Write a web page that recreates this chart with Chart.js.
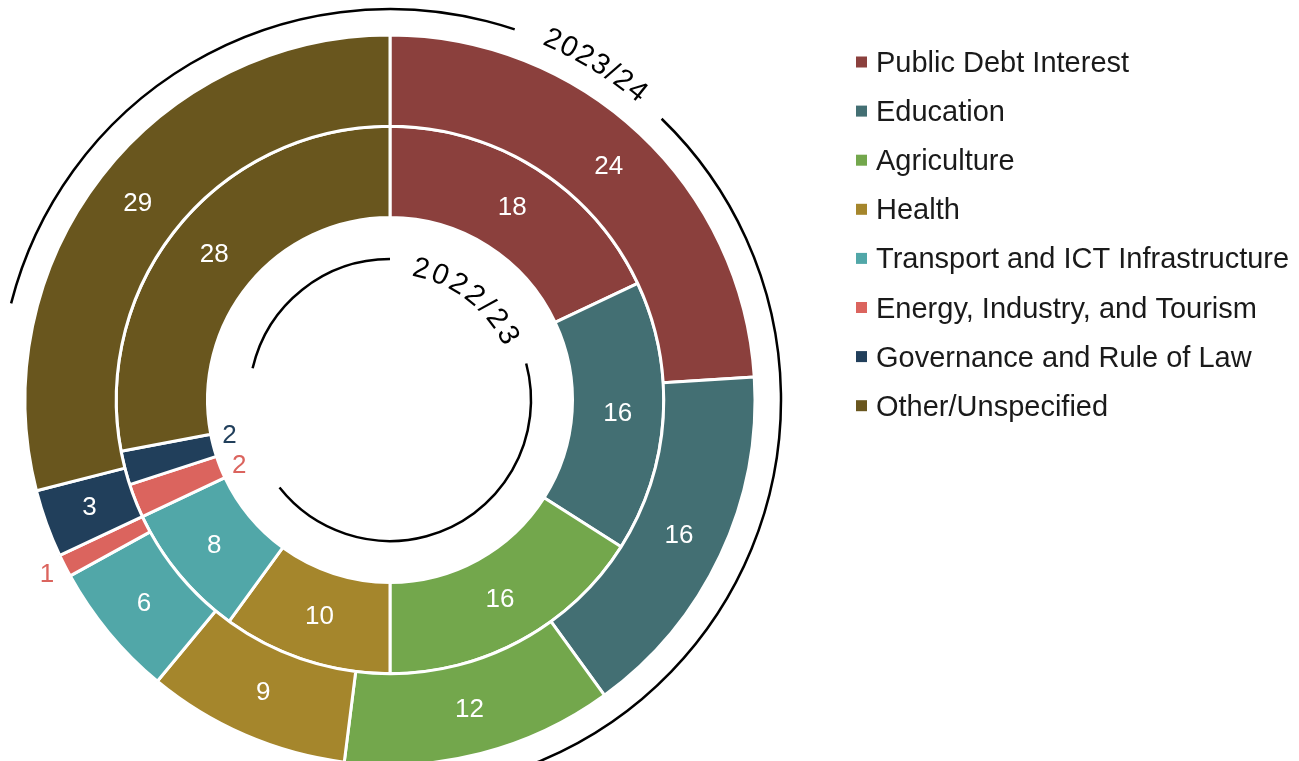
<!DOCTYPE html>
<html>
<head>
<meta charset="utf-8">
<title>Budget allocation by sector</title>
<script src="https://cdn.jsdelivr.net/npm/chart.js@4.4.1/dist/chart.umd.min.js"></script>
<style>
  html, body { margin: 0; padding: 0; background: #fff; overflow: hidden; }
  canvas { display: block; }
</style>
</head>
<body>
<canvas id="sectors" width="1299" height="761"></canvas>
<script>
const sectors = [
  "Public Debt Interest",
  "Education",
  "Agriculture",
  "Health",
  "Transport and ICT Infrastructure",
  "Energy, Industry, and Tourism",
  "Governance and Rule of Law",
  "Other/Unspecified"
];
const sectorColors = ["#8b403d", "#436f73", "#73a74c", "#a5862c", "#51a7a8", "#db645e", "#213f5b", "#69561e"];
// shares in percent, outer ring first
const share2023 = [24, 16, 12, 9, 6, 1, 3, 29];
const share2022 = [18, 16, 16, 10, 8, 2, 2, 28];
const years = ["2023/24", "2022/23"];

const FONT = '"Liberation Sans", Arial, sans-serif';
const deg = d => d * Math.PI / 180;

// numbers on each slice; thin slices get their value beside the ring
const sliceLabels = {
  id: "sliceLabels",
  afterDatasetsDraw(chart) {
    const ctx = chart.ctx;
    ctx.save();
    ctx.font = "26px " + FONT;
    ctx.textAlign = "center";
    ctx.textBaseline = "middle";
    chart.data.datasets.forEach((ds, di) => {
      const meta = chart.getDatasetMeta(di);
      const outside = [];
      meta.data.forEach((arc, i) => {
        const p = arc.getProps(["x", "y", "startAngle", "endAngle", "innerRadius", "outerRadius"], true);
        const mid = (p.startAngle + p.endAngle) / 2;
        const v = ds.data[i];
        if (v <= 2) {
          const r = di === 0 ? p.outerRadius + 20 : p.innerRadius - 18;
          outside.push({ mid, r, x: p.x, y: p.y, v, color: sectorColors[i] });
          return;
        }
        const r = (p.innerRadius + p.outerRadius) / 2;
        ctx.fillStyle = "#fff";
        ctx.fillText(String(v), p.x + Math.cos(mid) * r, p.y + Math.sin(mid) * r);
      });
      // keep neighbouring outside labels apart
      const gap = deg(11);
      for (let k = 1; k < outside.length; k++) {
        const a = outside[k - 1], b = outside[k];
        const d = b.mid - a.mid;
        if (d < gap) {
          a.mid -= (gap - d) / 2;
          b.mid += (gap - d) / 2;
        }
      }
      outside.forEach(o => {
        ctx.fillStyle = o.color;
        ctx.fillText(String(o.v), o.x + Math.cos(o.mid) * o.r, o.y + Math.sin(o.mid) * o.r);
      });
    });
    ctx.restore();
  }
};

// text laid along a circle, angle in degrees clockwise from 12 o'clock
function arcText(ctx, text, cx, cy, r, centerDeg, spacing) {
  const chars = [...text];
  const widths = chars.map(c => ctx.measureText(c).width);
  const total = widths.reduce((s, w) => s + w, 0) + spacing * (chars.length - 1);
  let acc = 0;
  const start = deg(centerDeg) - total / 2 / r;
  chars.forEach((c, i) => {
    const a = start + (acc + widths[i] / 2) / r;
    ctx.save();
    ctx.translate(cx + Math.sin(a) * r, cy - Math.cos(a) * r);
    ctx.rotate(a);
    ctx.fillText(c, 0, 0);
    ctx.restore();
    acc += widths[i] + spacing;
  });
}

// year brackets around each ring
const yearArcs = {
  id: "yearArcs",
  afterDraw(chart) {
    const ctx = chart.ctx;
    const arc0 = chart.getDatasetMeta(0).data[0];
    const cx = arc0.x, cy = arc0.y;
    const rings = [
      { text: years[0], r: 391, textR: 395, at: 31.5, spacing: 1.8, spans: [[284.3, 378.6], [44, 180]] },
      { text: years[1], r: 141, textR: 134, at: 37.3, spacing: 3.9, spans: [[283, 360], [75, 231.6]] }
    ];
    ctx.save();
    ctx.strokeStyle = "#000";
    ctx.lineWidth = 2.5;
    rings.forEach(ring => {
      ring.spans.forEach(([a0, a1]) => {
        ctx.beginPath();
        ctx.arc(cx, cy, ring.r, deg(a0 - 90), deg(a1 - 90));
        ctx.stroke();
      });
      ctx.fillStyle = "#000";
      ctx.font = "29px " + FONT;
      ctx.textAlign = "center";
      ctx.textBaseline = "middle";
      arcText(ctx, ring.text, cx, cy, ring.textR, ring.at, ring.spacing);
    });
    ctx.restore();
  }
};

// legend column on the right
const sideLegend = {
  id: "sideLegend",
  afterDraw(chart) {
    const ctx = chart.ctx;
    ctx.save();
    ctx.font = "29px " + FONT;
    ctx.textAlign = "left";
    ctx.textBaseline = "alphabetic";
    chart.data.labels.forEach((label, i) => {
      const y = 62 + i * 49.1;
      ctx.fillStyle = sectorColors[i];
      ctx.fillRect(856, y - 5.5, 11, 11);
      ctx.fillStyle = "#1a1a1a";
      ctx.fillText(label, 876, y + 10);
    });
    ctx.restore();
  }
};

new Chart(document.getElementById("sectors").getContext("2d"), {
  type: "doughnut",
  data: {
    labels: sectors,
    datasets: [
      { label: years[0], data: share2023, backgroundColor: sectorColors, borderColor: "#fff", borderWidth: 3 },
      { label: years[1], data: share2022, backgroundColor: sectorColors, borderColor: "#fff", borderWidth: 3 }
    ]
  },
  options: {
    responsive: false,
    animation: false,
    events: [],
    radius: 365,
    cutout: "50%",
    layout: { padding: { left: 25, right: 544, top: 39, bottom: 0 } },
    plugins: {
      legend: { display: false },
      tooltip: { enabled: false }
    }
  },
  plugins: [sliceLabels, yearArcs, sideLegend]
});
</script>
</body>
</html>
